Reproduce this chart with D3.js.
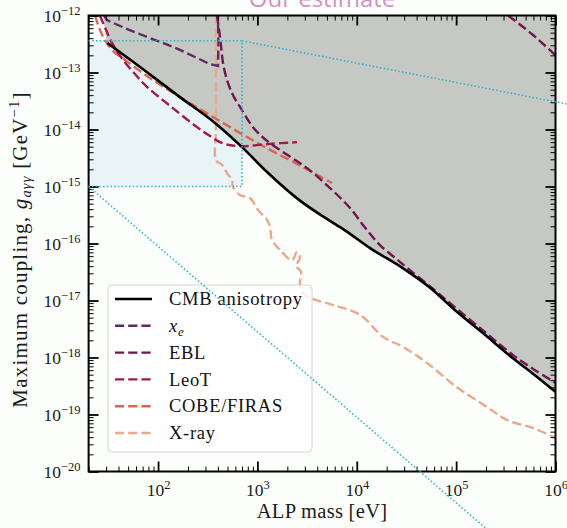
<!DOCTYPE html>
<html>
<head>
<meta charset="utf-8">
<script src="https://cdn.jsdelivr.net/npm/d3@7"></script>
<style>
  html, body { margin: 0; padding: 0; background: #fcfefc; }
  svg { display: block; }
</style>
</head>
<body>
<svg id="chart" width="567" height="528"></svg>
<script>
// ALP mass in eV, photon coupling g_aγγ in GeV^-1

// CMB anisotropy bound (excluded above)
const cmbMass = [31, 66, 166, 374, 700, 1250, 2700, 5000, 7600, 13600, 29000, 55000, 97000, 195000, 370000, 620000, 1e6];
const cmbCoupling = [3.3e-13, 1.25e-13, 3.7e-14, 1.3e-14, 4.9e-15, 1.8e-15, 5.6e-16, 2.7e-16, 1.7e-16, 8.3e-17, 3.7e-17, 1.66e-17, 6.8e-18, 2.5e-18, 9.8e-19, 4.9e-19, 2.5e-19];
// upper-left corner where the excluded region meets the top of the frame
const cmbEdgeMass = [28];
const cmbEdgeCoupling = [1e-12];

// ionisation fraction x_e
const xeMass = [28.6, 30.6, 46.5, 77.4, 117, 166, 247, 333, 401, 405, 403, 400];
const xeCoupling = [1e-12, 8.3e-13, 6.0e-13, 4.2e-13, 3.2e-13, 2.5e-13, 1.8e-13, 1.4e-13, 1.3e-13, 3.0e-13, 5.6e-13, 1e-12];

// extragalactic background light
const eblMass = [392, 411, 430, 450, 494, 568, 668, 903, 1250, 1990, 3160, 5380, 8550, 12100, 17100, 24300, 34300, 61300, 102000, 195000, 374000, 622000, 1e6];
const eblCoupling = [1e-12, 5.6e-13, 3.0e-13, 1.5e-13, 7.4e-14, 4.0e-14, 2.5e-14, 1.1e-14, 6.3e-15, 3.6e-15, 2.1e-15, 9.4e-16, 4.2e-16, 1.9e-16, 9.4e-17, 5.6e-17, 3.4e-17, 1.5e-17, 7.1e-18, 2.8e-18, 1.1e-18, 6.0e-19, 3.6e-19];
const eblHighMass = [333000, 594000, 1e6];
const eblHighCoupling = [1e-12, 4.55e-13, 2.0e-13];

// Leo T dwarf galaxy heating
const leoTMass = [26, 29.9, 34.4, 44.4, 58.6, 77.4, 132, 247, 333, 440, 668, 1340, 2500];
const leoTCoupling = [1e-12, 5.6e-13, 3.3e-13, 1.66e-13, 9.4e-14, 5.6e-14, 2.6e-14, 1.1e-14, 7.7e-15, 5.8e-15, 5.1e-15, 5.6e-15, 6.0e-15];

// COBE/FIRAS spectral distortions
const cobeMass = [23.2, 26, 29.2, 34.4, 46.5, 77.4, 166, 357, 668, 1250, 2500, 5630];
const cobeCoupling = [1e-12, 5.6e-13, 3.7e-13, 2.5e-13, 1.66e-13, 8.7e-14, 3.7e-14, 1.66e-14, 8.7e-15, 4.7e-15, 2.5e-15, 1.15e-15];

// X-ray background
const xrayMass = [383, 383, 383, 383, 383, 440, 494, 555, 568, 668, 842, 1010, 1250, 1340, 1400, 1690, 2230, 2500, 2680, 2450, 2750, 2680, 3080, 3890, 5770, 10800, 18400, 29200, 50900, 102000, 205000, 325000, 594000, 1e6];
const xrayCoupling = [1e-12, 1.66e-13, 3.3e-14, 9.8e-15, 2.9e-15, 2.4e-15, 1.72e-15, 1.3e-15, 9.8e-16, 7.1e-16, 6.3e-16, 3.9e-16, 2.6e-16, 1.95e-16, 1.15e-16, 7.7e-17, 5.1e-17, 7.1e-17, 5.6e-17, 4.0e-17, 3.2e-17, 1.87e-17, 1.2e-17, 1.02e-17, 8.3e-18, 5.6e-18, 2.3e-18, 1.53e-18, 8.0e-19, 3.0e-19, 1.35e-19, 8.0e-20, 5.8e-20, 3.9e-20];

// estimate box and guide lines
const boxMass = [20, 700];
const boxCoupling = [1e-15, 3.6e-13];
const upperGuideMass = [700, 1.3e6];
const upperGuideCoupling = [3.6e-13, 2.8e-14];
const lowerGuideMass = [20, 2e5];
const lowerGuideCoupling = [1e-15, 1e-21];

// axes
const massDomain = [20, 1e6];
const couplingDomain = [1e-20, 1e-12];
const xMajor = [1e2, 1e3, 1e4, 1e5, 1e6];
const xTickExponents = ["2", "3", "4", "5", "6"];
const yMajor = [1e-20, 1e-19, 1e-18, 1e-17, 1e-16, 1e-15, 1e-14, 1e-13, 1e-12];
const yTickExponents = ["\u221220", "\u221219", "\u221218", "\u221217", "\u221216", "\u221215", "\u221214", "\u221213", "\u221212"];

const legendLabels = ["CMB anisotropy", "x_e", "EBL", "LeoT", "COBE/FIRAS", "X-ray"];
const titleText = "Our estimate";

// ---------------------------------------------------------------
const serif = "'Liberation Serif', 'Times New Roman', serif";
const colors = {
  cmb: "#000000", xe: "#5d2c62", ebl: "#6f1750", leoT: "#a31a49",
  cobe: "#d9664f", xray: "#eaa98a", guide: "#2fb3c8",
  shade: "#c5c8c3", box: "#e8f4f5"
};

const svg = d3.select("#chart");
const pLeft = 88.6, pRight = 555.5, pTop = 15.5, pBottom = 471.5;

svg.append("rect").attr("width", 567).attr("height", 528).attr("fill", "#fcfefc");

const x = d3.scaleLog().domain(massDomain).range([pLeft, pRight]);
const y = d3.scaleLog().domain(couplingDomain).range([pBottom, pTop]);

const zip = (ms, gs) => ms.map((m, i) => [m, gs[i]]);

svg.append("clipPath").attr("id", "plot-clip")
  .append("rect").attr("x", pLeft).attr("y", pTop)
  .attr("width", pRight - pLeft).attr("height", pBottom - pTop);

const plot = svg.append("g").attr("clip-path", "url(#plot-clip)");

// light box behind everything
plot.append("rect")
  .attr("x", x(boxMass[0])).attr("y", y(boxCoupling[1]))
  .attr("width", x(boxMass[1]) - x(boxMass[0]))
  .attr("height", y(boxCoupling[0]) - y(boxCoupling[1]))
  .attr("fill", colors.box);

// excluded region above the CMB curve
const cmbPts = zip(cmbMass, cmbCoupling);
const shadePts = zip(cmbEdgeMass, cmbEdgeCoupling).concat(cmbPts);
const area = d3.area()
  .x(d => x(d[0])).y0(pTop).y1(d => y(d[1]))
  .curve(d3.curveMonotoneX);
plot.append("path").datum(shadePts).attr("d", area).attr("fill", colors.shade);

const lineSmooth = d3.line().x(d => x(d[0])).y(d => y(d[1])).curve(d3.curveMonotoneX);
const lineFree = d3.line().x(d => x(d[0])).y(d => y(d[1])).curve(d3.curveCatmullRom.alpha(0.5));
const lineStraight = d3.line().x(d => x(d[0])).y(d => y(d[1]));

const dash = "9.2 4";
const dashed = [
  { pts: zip(xrayMass, xrayCoupling), color: colors.xray, gen: lineFree },
  { pts: zip(cobeMass, cobeCoupling), color: colors.cobe, gen: lineSmooth },
  { pts: zip(leoTMass, leoTCoupling), color: colors.leoT, gen: lineFree },
  { pts: zip(eblMass, eblCoupling), color: colors.ebl, gen: lineFree },
  { pts: zip(eblHighMass, eblHighCoupling), color: colors.ebl, gen: lineSmooth },
  { pts: zip(xeMass, xeCoupling), color: colors.xe, gen: lineStraight }
];
dashed.forEach(s => {
  plot.append("path").datum(s.pts).attr("d", s.gen)
    .attr("fill", "none").attr("stroke", s.color)
    .attr("stroke-width", 2.4).attr("stroke-dasharray", dash);
});

plot.append("path").datum(cmbPts).attr("d", lineSmooth)
  .attr("fill", "none").attr("stroke", colors.cmb).attr("stroke-width", 2.6);

// ---------------------------------------------------------------
// legend
const leg = svg.append("g");
leg.append("rect").attr("x", 108).attr("y", 285).attr("width", 204).attr("height", 167)
  .attr("rx", 4).attr("fill", "#ffffff").attr("fill-opacity", 0.8)
  .attr("stroke", "#d4d4d4").attr("stroke-width", 1);
const legColors = [colors.cmb, colors.xe, colors.ebl, colors.leoT, colors.cobe, colors.xray];
legendLabels.forEach((lab, i) => {
  const ry = 299 + i * 26.8;
  leg.append("line").attr("x1", 115).attr("x2", 152).attr("y1", ry).attr("y2", ry)
    .attr("stroke", legColors[i]).attr("stroke-width", i === 0 ? 2.6 : 2.4)
    .attr("stroke-dasharray", i === 0 ? null : dash);
  const t = leg.append("text").attr("x", 169).attr("y", ry).attr("dy", "0.34em")
    .attr("font-family", serif).attr("font-size", 18.5).attr("letter-spacing", 0.7)
    .attr("fill", "#111");
  if (lab === "x_e") {
    t.append("tspan").attr("font-style", "italic").text("x");
    t.append("tspan").attr("font-style", "italic").attr("font-size", 13).attr("dy", 4).text("e");
  } else {
    t.text(lab);
  }
});

// ---------------------------------------------------------------
// axes: inward ticks on all four sides
const minorX = [], minorY = [];
for (let e = 1; e < 6; e++) for (let k = 2; k < 10; k++) {
  const v = k * Math.pow(10, e);
  if (v >= massDomain[0] && v <= massDomain[1]) minorX.push(v);
}
for (let e = -20; e < -12; e++) for (let k = 2; k < 10; k++) minorY.push(k * Math.pow(10, e));

function addAxis(gen, tx, ty, width) {
  const g = svg.append("g").attr("transform", `translate(${tx},${ty})`).call(gen);
  g.select(".domain").remove();
  g.selectAll(".tick line").attr("stroke", "#000").attr("stroke-width", width);
  return g;
}
const noLabel = () => "";
addAxis(d3.axisBottom(x).tickValues(minorX).tickSize(-5).tickFormat(noLabel), 0, pBottom, 1);
addAxis(d3.axisTop(x).tickValues(minorX).tickSize(-5).tickFormat(noLabel), 0, pTop, 1);
addAxis(d3.axisLeft(y).tickValues(minorY).tickSize(-5).tickFormat(noLabel), pLeft, 0, 1);
addAxis(d3.axisRight(y).tickValues(minorY).tickSize(-5).tickFormat(noLabel), pRight, 0, 1);
addAxis(d3.axisTop(x).tickValues(xMajor).tickSize(-10).tickFormat(noLabel), 0, pTop, 1.8);
addAxis(d3.axisRight(y).tickValues(yMajor).tickSize(-10).tickFormat(noLabel), pRight, 0, 1.8);

const gx = addAxis(d3.axisBottom(x).tickValues(xMajor).tickSize(-10).tickFormat(noLabel), 0, pBottom, 1.8);
gx.selectAll(".tick text").each(function (d, i) {
  const t = d3.select(this);
  t.attr("y", 24).attr("dy", null).attr("font-family", serif).attr("font-size", 17.5)
    .attr("fill", "#1a1a1a").text(null);
  t.append("tspan").text("10");
  t.append("tspan").attr("dy", -7).attr("font-size", 12.5).text(xTickExponents[i]);
});

const gy = addAxis(d3.axisLeft(y).tickValues(yMajor).tickSize(-10).tickPadding(8).tickFormat(noLabel), pLeft, 0, 1.8);
gy.selectAll(".tick text").each(function (d, i) {
  const t = d3.select(this);
  t.attr("dy", "0.34em").attr("font-family", serif).attr("font-size", 17.5)
    .attr("fill", "#1a1a1a").text(null);
  t.append("tspan").text("10");
  t.append("tspan").attr("dy", -7).attr("font-size", 12.5).text(yTickExponents[i]);
});

svg.append("rect").attr("x", pLeft).attr("y", pTop)
  .attr("width", pRight - pLeft).attr("height", pBottom - pTop)
  .attr("fill", "none").attr("stroke", "#000").attr("stroke-width", 2);

// axis titles
svg.append("text").attr("x", (pLeft + pRight) / 2).attr("y", 518)
  .attr("text-anchor", "middle").attr("font-family", serif).attr("font-size", 20.5)
  .attr("letter-spacing", 0.3).attr("fill", "#1a1a1a").text("ALP mass [eV]");

const yl = svg.append("text")
  .attr("transform", `translate(27,${(pTop + pBottom) / 2 + 6}) rotate(-90)`)
  .attr("text-anchor", "middle").attr("font-family", serif).attr("font-size", 21)
  .attr("letter-spacing", 1.2).attr("fill", "#1a1a1a");
yl.append("tspan").text("Maximum coupling, ");
yl.append("tspan").attr("font-style", "italic").text("g");
yl.append("tspan").attr("font-style", "italic").attr("font-size", 14.5).attr("dy", 4).text("a\u03b3\u03b3");
yl.append("tspan").attr("dy", -4).text(" [GeV");
yl.append("tspan").attr("font-size", 14.5).attr("dy", -8).text("\u22121");
yl.append("tspan").attr("dy", 8).text("]");

// ---------------------------------------------------------------
// dotted estimate box and guide lines, drawn over everything
const guide = svg.append("g").attr("fill", "none").attr("stroke", colors.guide)
  .attr("stroke-width", 1.6).attr("stroke-dasharray", "1.5 2.2");
guide.append("path").attr("d", lineStraight([
  [boxMass[0], boxCoupling[1]], [boxMass[1], boxCoupling[1]],
  [boxMass[1], boxCoupling[0]], [boxMass[0], boxCoupling[0]]
]));
guide.append("path").attr("d", lineStraight(zip(upperGuideMass, upperGuideCoupling)));
guide.append("path").attr("d", lineStraight(zip(lowerGuideMass, lowerGuideCoupling)));

// title sitting above the frame
svg.append("text").attr("x", (pLeft + pRight) / 2).attr("y", 6.5)
  .attr("text-anchor", "middle").attr("font-family", "'Open Sans', sans-serif")
  .attr("font-size", 24).attr("fill", "#d391c6").text(titleText);
</script>
</body>
</html>
